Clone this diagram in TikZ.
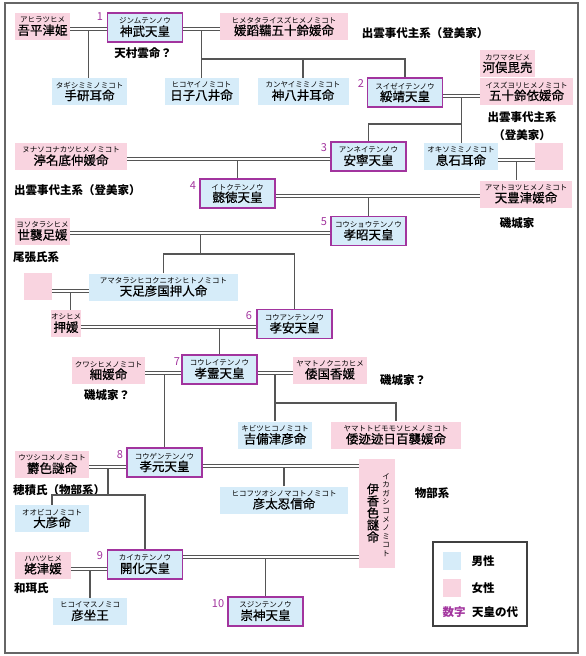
\documentclass[tikz,border=0pt]{standalone}
\usepackage{fontspec}
\setmainfont{Noto Sans CJK JP}
\newfontfamily\meifont{Noto Sans CJK JP}[FakeBold=0.7]
\usetikzlibrary{positioning, calc}
\definecolor{celeste}{HTML}{D6ECF9}
\definecolor{rosado}{HTML}{F9D4E0}
\definecolor{morado}{HTML}{A2349E}
\definecolor{grislinea}{HTML}{555555}
\newcommand{\yomi}[2]{{\rmfamily\fontsize{7.5}{8}\selectfont #1}\\[-1pt]#2}
\tikzset{
  tenno/.style={rectangle, draw=morado, line width=1.2pt, fill=celeste, minimum width=75pt, minimum height=29pt,
                inner sep=0pt, align=center, font=\meifont\fontsize{12.5}{13}\selectfont},
  otoko/.style={rectangle, fill=celeste, minimum width=74pt, minimum height=27pt,
                inner sep=0pt, align=center, font=\meifont\fontsize{12.5}{13}\selectfont},
  onna/.style={rectangle, fill=rosado, minimum width=74pt, minimum height=27pt,
               inner sep=0pt, align=center, font=\meifont\fontsize{12.5}{13}\selectfont},
  dai/.style={font=\fontsize{11}{11}\selectfont, text=morado, inner sep=0pt},
  kei/.style={font=\fontsize{11.5}{18}\selectfont\bfseries, inner sep=0pt, align=center},
  kon/.style={draw=grislinea, line width=0.9pt, double=white, double distance=1.6pt},
  oyako/.style={draw=grislinea, line width=1.5pt}
}

\begin{document}
\begin{tikzpicture}[x=1pt, y=-1pt]
  \useasboundingbox (0,0) rectangle (586,656);
  \draw[line width=1.4pt, black!60] (5,3) rectangle (578,653);

  % personas
  \node (ahira) [onna, minimum width=55pt] at (42.5,26.5) {\yomi{アヒラツヒメ}{吾平津姫}};
  \node (e1) [tenno] at (145,27.5) {\yomi{ジンムテンノウ}{神武天皇}};
  \node (hime1) [onna, minimum width=128pt] at (284,26.5) {\yomi{ヒメタタライスズヒメノミコト}{媛蹈鞴五十鈴媛命}};
  \node (tagishi) [otoko, minimum width=75pt] at (89.5,91.5) {\yomi{タギシミミノミコト}{手研耳命}};
  \node (hikoyai) [otoko] at (201.5,91.5) {\yomi{ヒコヤイノミコト}{日子八井命}};
  \node (kanyai) [otoko, minimum width=91pt] at (303,91.5) {\yomi{カンヤイミミノミコト}{神八井耳命}};
  \node (e2) [tenno] at (405,92.5) {\yomi{スイゼイテンノウ}{綏靖天皇}};
  \node (kawamata) [onna, minimum width=55pt] at (507.5,63.5) {\yomi{カワマタビメ}{河俣毘売}};
  \node (isuzuyori) [onna, minimum width=93pt] at (526.5,91.5) {\yomi{イスズヨリヒメノミコト}{五十鈴依媛命}};
  \node (nunasoko) [onna, minimum width=112pt] at (71,156.5) {\yomi{ヌナソコナカツヒメノミコト}{渟名底仲媛命}};
  \node (e3) [tenno] at (368.5,156.5) {\yomi{アンネイテンノウ}{安寧天皇}};
  \node (okiso) [otoko] at (461,156.5) {\yomi{オキソミミノミコト}{息石耳命}};
  \node (blank1) [onna, minimum width=28pt] at (549,156.5) {};
  \node (e4) [tenno] at (237.5,193.5) {\yomi{イトクテンノウ}{懿徳天皇}};
  \node (amatoyo) [onna, minimum width=92pt] at (526,194) {\yomi{アマトヨツヒメノミコト}{天豊津媛命}};
  \node (yoso) [onna, minimum width=55pt] at (42.5,231) {\yomi{ヨソタラシヒメ}{世襲足媛}};
  \node (e5) [tenno] at (368.5,231) {\yomi{コウショウテンノウ}{孝昭天皇}};
  \node (blank2) [onna, minimum width=28pt] at (38,286.5) {};
  \node (amatarashi) [otoko, minimum width=149pt] at (163.5,287) {\yomi{アマタラシヒコクニオシヒトノミコト}{天足彦国押人命}};
  \node (oshi) [onna, minimum width=28pt] at (66,323.5) {\yomi{オシヒメ}{押媛}};
  \node (e6) [tenno] at (294.5,324) {\yomi{コウアンテンノウ}{孝安天皇}};
  \node (kuwashi) [onna, minimum width=73pt] at (108.5,370.5) {\yomi{クワシヒメノミコト}{細媛命}};
  \node (e7) [tenno] at (219.5,369.5) {\yomi{コウレイテンノウ}{孝霊天皇}};
  \node (kunika) [onna] at (330,370) {\yomi{ヤマトノクニカヒメ}{倭国香媛}};
  \node (kibitsu) [otoko] at (275,435) {\yomi{キビツヒコノミコト}{吉備津彦命}};
  \node (momoso) [onna, minimum width=130pt] at (396,435) {\yomi{ヤマトトビモモソヒメノミコト}{倭迹迹日百襲媛命}};
  \node (utsushiko) [onna] at (52,464.5) {\yomi{ウツシコメノミコト}{欝色謎命}};
  \node (e8) [tenno] at (164.5,462.5) {\yomi{コウゲンテンノウ}{孝元天皇}};
  \node (ikagashi) [onna, minimum width=36pt, minimum height=109pt] at (377,513.5) {};
  \node (ikagashi-mei) [font=\meifont\fontsize{12}{12}\selectfont, align=center, inner sep=0pt] at (373,513) {伊\\香\\色\\謎\\命};
  \node (ikagashi-yomi) [font=\fontsize{7.5}{8.6}\selectfont, align=center, inner sep=0pt] at (386,515) {イ\\カ\\ガ\\シ\\コ\\メ\\ノ\\ミ\\コ\\ト};
  \node (hikofutsu) [otoko, minimum width=128pt] at (284,500) {\yomi{ヒコフツオシノマコトノミコト}{彦太忍信命}};
  \node (ohbiko) [otoko] at (52,518.5) {\yomi{オオビコノミコト}{大彦命}};
  \node (hahatsu) [onna, minimum width=56pt] at (43,565) {\yomi{ハハツヒメ}{姥津媛}};
  \node (e9) [tenno] at (145,564.5) {\yomi{カイカテンノウ}{開化天皇}};
  \node (hikoimasu) [otoko] at (90,611.5) {\yomi{ヒコイマスノミコ}{彦坐王}};
  \node (e10) [tenno] at (265.5,611.5) {\yomi{スジンテンノウ}{崇神天皇}};

  % numeros
  \node (k1) [dai] at (100,17) {1};
  \node (k2) [dai] at (361,84) {2};
  \node (k3) [dai] at (324,148) {3};
  \node (k4) [dai] at (193,186) {4};
  \node (k5) [dai] at (324,222) {5};
  \node (k6) [dai] at (249,316) {6};
  \node (k7) [dai] at (177,362) {7};
  \node (k8) [dai] at (120,455) {8};
  \node (k9) [dai] at (100,556) {9};
  \node (k10) [dai] at (218,604) {10};

  % linajes
  \node (amanomura) [kei] at (143,53) {天村雲命？};
  \node (tomi1) [kei] at (425,33) {出雲事代主系（登美家）};
  \node (tomi2) [kei] at (522,126) {出雲事代主系\\（登美家）};
  \node (tomi3) [kei, anchor=west] at (14,190) {出雲事代主系（登美家）};
  \node (shiki1) [kei] at (517,223) {磯城家};
  \node (owari) [kei, anchor=west] at (13,257) {尾張氏系};
  \node (shiki2) [kei] at (107,395) {磯城家？};
  \node (shiki3) [kei] at (403,380) {磯城家？};
  \node (hozumi) [kei, anchor=west] at (13,490) {穂積氏（物部系）};
  \node (mononobe) [kei] at (432,493) {物部系};
  \node (wani) [kei, anchor=west] at (14,588) {和珥氏};

  % puntos de union
  \coordinate (c1) at ([yshift=-1.5pt]e1.west);
  \coordinate (c2) at ([yshift=-1.5pt]e1.east);
  \coordinate (c3) at ([yshift=-3.5pt]e2.east);
  \coordinate (c4) at ([yshift=-2.5pt]e3.west);
  \coordinate (c5) at ([yshift=-3.5pt]okiso.east);
  \coordinate (c6) at ([yshift=-2.5pt]e4.east);
  \coordinate (c7) at ([yshift=-2pt]e5.west);
  \coordinate (c8) at ([yshift=-4pt]amatarashi.west);
  \coordinate (c9) at ([yshift=-3pt]e6.west);
  \coordinate (c10) at ([yshift=-3.5pt]e7.west);
  \coordinate (c11) at ([yshift=-3.5pt]e7.east);
  \coordinate (c12) at ([yshift=-4.5pt]e8.west);
  \coordinate (c13) at ([yshift=-3.5pt]e8.east);
  \coordinate (c14) at ([yshift=-4.5pt]e9.west);
  \coordinate (c15) at ([yshift=7.5pt]e9.east);
  \coordinate (m1) at ($(c1)!0.5!(c1 -| ahira.east)$);
  \coordinate (m2) at ($(c2)!0.5!(c2 -| hime1.west)$);
  \coordinate (m3) at ($(c3)!0.5!(c3 -| isuzuyori.west)$);
  \coordinate (m5) at ($(c5)!0.5!(c5 -| blank1.west)$);
  \coordinate (m7) at ($(c7)!0.5!(c7 -| yoso.east)$);
  \coordinate (m8) at ($(c8)!0.5!(c8 -| blank2.east)$);
  \coordinate (m11) at ($(c11)!0.5!(c11 -| kunika.west)$);
  \coordinate (m12) at ($(c12)!0.5!(c12 -| utsushiko.east)$);
  \coordinate (b2) at ($(m2)+(0,30)$);
  \coordinate (b3) at ($(m3)+(0,28)$);
  \coordinate (b7) at ($(m7)+(0,21)$);
  \coordinate (b11) at ($(m11)+(0,30)$);
  \coordinate (b12) at ($(m12)+(0,28)$);

  % hijos
  \draw[oyako] (m1) -- (m1 |- tagishi.north);
  \draw[oyako] (m2) -- (m2 |- hikoyai.north);
  \draw[oyako] (b2) -| (e2.north);
  \draw[oyako] (kanyai.north) -- (kanyai.north |- b2);
  \draw[oyako] (m3) -- (m3 |- okiso.north);
  \draw[oyako] (b3) -| (e3.north);
  \draw[oyako] (e4.north) -- (e4.north |- c4);
  \draw[oyako] (m5) -- (m5 |- amatoyo.north);
  \draw[oyako] (e5.north) -- (e5.north |- c6);
  \draw[oyako] (m7) -- (b7);
  \draw[oyako] (amatarashi.north) |- (b7) -| (e6.north);
  \draw[oyako] (m8) -- (m8 |- oshi.north);
  \draw[oyako] (e7.north) -- (e7.north |- c9);
  \draw[oyako] (e8.north) -- (e8.north |- c10);
  \draw[oyako] (m11) -- (m11 |- kibitsu.north);
  \draw[oyako] (b11) -| (momoso.north);
  \draw[oyako] (m12) -- (b12);
  \draw[oyako] (ohbiko.north) |- (b12) -| (e9.north);
  \draw[oyako] (hikofutsu.north) -- (hikofutsu.north |- c13);
  \draw[oyako] (hikoimasu.north) -- (hikoimasu.north |- c14);
  \draw[oyako] (e10.north) -- (e10.north |- c15);

  % matrimonios
  \draw[kon] (c1) -- (c1 -| ahira.east);
  \draw[kon] (c2) -- (c2 -| hime1.west);
  \draw[kon] (c3) -- (c3 -| isuzuyori.west);
  \draw[kon] (c4) -- (c4 -| nunasoko.east);
  \draw[kon] (c5) -- (c5 -| blank1.west);
  \draw[kon] (c6) -- (c6 -| amatoyo.west);
  \draw[kon] (c7) -- (c7 -| yoso.east);
  \draw[kon] (c8) -- (c8 -| blank2.east);
  \draw[kon] (c9) -- (c9 -| oshi.east);
  \draw[kon] (c10) -- (c10 -| kuwashi.east);
  \draw[kon] (c11) -- (c11 -| kunika.west);
  \draw[kon] (c12) -- (c12 -| utsushiko.east);
  \draw[kon] (c13) -- (c13 -| ikagashi.west);
  \draw[kon] (c14) -- (c14 -| hahatsu.east);
  \draw[kon] (c15) -- (c15 -| ikagashi.west);

  % leyenda
  \node (leyenda) [draw=black!75, line width=1.2pt, minimum width=94pt, minimum height=84pt] at (480,584) {};
  \node (lmasc) [otoko, minimum width=18pt, minimum height=18pt] at (452,561) {};
  \node (lfem) [onna, minimum width=18pt, minimum height=18pt] at (452,588) {};
  \node (tmasc) [kei] at (483,561) {男性};
  \node (tfem) [kei] at (483,588) {女性};
  \node (tsuji) [kei, text=morado] at (454,612) {数字};
  \node (tdai) [kei] at (495,612) {天皇の代};
\end{tikzpicture}
\end{document}
